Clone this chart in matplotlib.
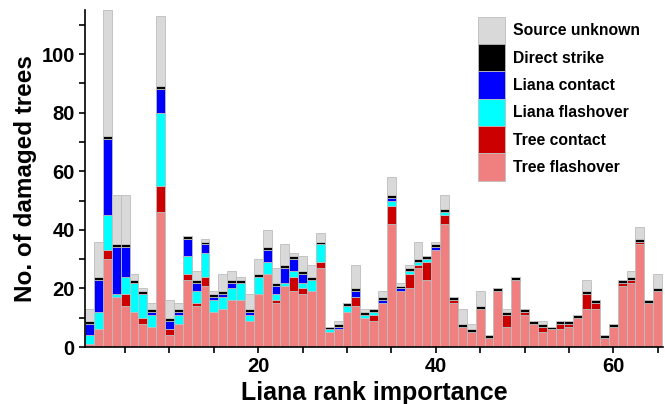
import matplotlib
matplotlib.use("Agg")
import matplotlib.pyplot as plt
import numpy as np
from matplotlib.ticker import MultipleLocator, FixedLocator

plt.rcParams['font.family'] = ['Liberation Sans', 'DejaVu Sans']

ranks = list(range(1, 66))
tree_flashover = [1, 6, 30, 17, 14, 12, 8, 7, 46, 4, 8, 23, 14, 21, 12, 13, 16, 16, 9, 18,
                  25, 15, 21, 19, 18, 19, 27, 5, 6, 12, 14, 10, 9, 15, 42, 19, 20, 27, 23, 33,
                  42, 15, 7, 5, 13, 3, 19, 7, 23, 11, 8, 5, 6, 6, 7, 10, 13, 13, 3, 7,
                  21, 22, 35, 15, 19]
tree_contact = [0, 0, 3, 0, 4, 0, 2, 0, 9, 2, 0, 2, 1, 3, 0, 0, 0, 0, 0, 0,
                0, 1, 0, 5, 2, 0, 2, 0, 0, 0, 3, 0, 2, 0, 6, 0, 5, 1, 6, 0,
                3, 1, 0, 0, 0, 0, 0, 4, 0, 1, 0, 2, 0, 2, 1, 0, 5, 2, 0, 0,
                1, 1, 1, 0, 0]
liana_flashover = [3, 6, 12, 1, 6, 10, 8, 4, 25, 0, 3, 6, 4, 8, 4, 4, 4, 6, 2, 6,
                   4, 2, 1, 2, 2, 4, 6, 1, 0, 2, 0, 1, 1, 0, 2, 0, 1, 1, 1, 0,
                   1, 0, 0, 0, 0, 0, 0, 0, 0, 0, 0, 0, 0, 0, 0, 0, 0, 0, 0, 0,
                   0, 0, 0, 0, 0]
liana_contact = [4, 11, 26, 16, 10, 0, 0, 1, 8, 3, 1, 6, 3, 3, 1, 1, 2, 0, 1, 0,
                 4, 3, 5, 4, 3, 0, 0, 0, 1, 0, 2, 0, 0, 1, 1, 1, 0, 0, 0, 1,
                 0, 0, 0, 0, 0, 0, 0, 0, 0, 0, 0, 0, 0, 0, 0, 0, 0, 0, 0, 0,
                 0, 0, 0, 0, 0]
direct_strike = [1] * 65
source_unknown = [4, 12, 43, 17, 17, 2, 1, 2, 24, 6, 2, 0, 3, 1, 1, 6, 3, 1, 5, 5,
                  6, 5, 7, 1, 5, 4, 3, 0, 1, 0, 8, 1, 0, 2, 6, 1, 1, 6, 0, 1,
                  5, 0, 5, 2, 5, 0, 0, 1, 0, 0, 0, 1, 0, 0, 0, 0, 4, 0, 0, 0,
                  0, 2, 4, 0, 5]

series = [
    ("Tree flashover", tree_flashover, "#f08080"),
    ("Tree contact", tree_contact, "#cc0000"),
    ("Liana flashover", liana_flashover, "#00ffff"),
    ("Liana contact", liana_contact, "#0000ff"),
    ("Direct strike", direct_strike, "#000000"),
    ("Source unknown", source_unknown, "#d9d9d9"),
]

fig = plt.figure(figsize=(6.65, 4.04), dpi=100)
ax = fig.add_axes([0.128, 0.141, 0.869, 0.834])

x = np.array(ranks)
bottom = np.zeros(len(ranks))
handles = []
for name, vals, col in series:
    v = np.array(vals, dtype=float)
    b = ax.bar(x, v, width=1.0, bottom=bottom, color=col, edgecolor="#bdbdbd",
               linewidth=0.6, label=name)
    handles.append(b)
    bottom += v

ax.set_xlim(0.5, 65.6)
ax.set_ylim(0, 115)
ax.spines['top'].set_visible(False)
ax.spines['right'].set_visible(False)
ax.spines['left'].set_linewidth(1.2)
ax.spines['bottom'].set_linewidth(1.2)

ax.xaxis.set_major_locator(FixedLocator([20, 40, 60]))
ax.xaxis.set_minor_locator(MultipleLocator(5))
ax.yaxis.set_major_locator(MultipleLocator(20))
ax.yaxis.set_minor_locator(MultipleLocator(10))
ax.tick_params(which='both', direction='out', length=4, width=1.2)
for lab in ax.get_xticklabels() + ax.get_yticklabels():
    lab.set_fontweight('bold')
    lab.set_fontsize(14.5)

ax.set_xlabel("Liana rank importance", fontsize=18, fontweight='bold', labelpad=3)
ax.set_ylabel("No. of damaged trees", fontsize=17.5, fontweight='bold', labelpad=3)

leg = ax.legend(handles[::-1], [s[0] for s in series][::-1], loc='upper left',
                bbox_to_anchor=(0.709, 0.974), bbox_transform=fig.transFigure,
                frameon=False,
                prop={'weight': 'bold', 'size': 11.3},
                handlelength=1.72, handleheight=2.3, labelspacing=0.0,
                handletextpad=0.55, borderaxespad=0.0)

fig.savefig("out.png", dpi=100)
